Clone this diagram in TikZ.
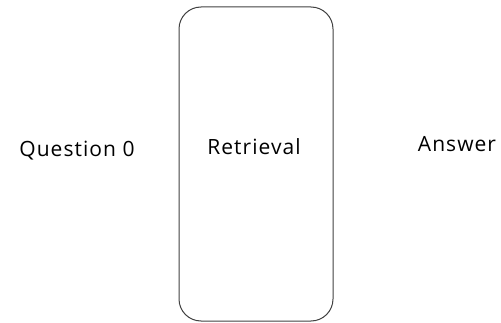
\documentclass[tikz,border=0pt]{standalone}
\usepackage{fontspec}
\setmainfont{Open Sans}[LetterSpace=5]
\begin{document}
\begin{tikzpicture}[x=1pt,y=1pt,
  lbl/.style={font=\fontsize{21}{24}\selectfont, inner sep=0pt, text=black},
  blk/.style={draw=black!75, line width=1pt, rounded corners=22pt}]
\useasboundingbox (0,0) rectangle (501,322);
\draw[blk] (179,1) rectangle (333,315);
\node[lbl] (q) at (77,171) {Question 0};
\node[lbl] (r) at (254,175) {Retrieval};
\node[lbl] (a) at (457,178) {Answer};
\end{tikzpicture}
\end{document}
